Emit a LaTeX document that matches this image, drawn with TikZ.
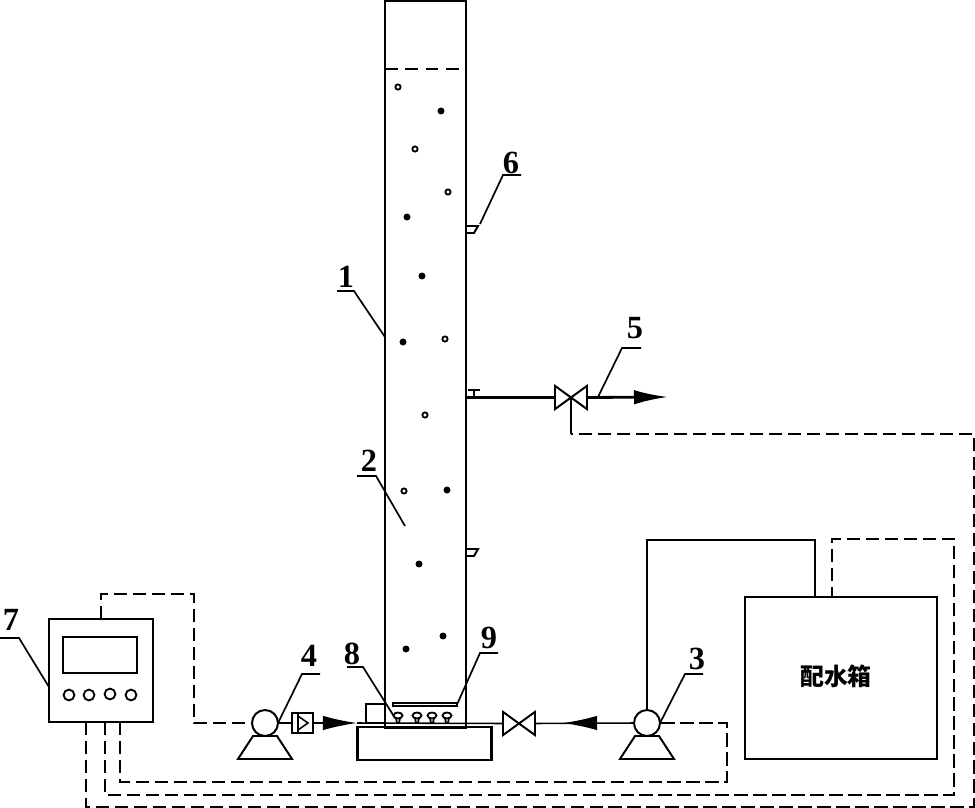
\documentclass[tikz,border=0pt]{standalone}
\usepackage{fontspec}
\setmainfont{Liberation Serif}
\newfontfamily\cjkfont{Noto Sans CJK SC}
\usepackage{tikz}
\usetikzlibrary{arrows.meta}
\tikzset{
  box/.style={draw, rectangle, inner sep=0pt, outer sep=0pt, line width=1.6pt},
  pumphead/.style={draw, circle, inner sep=0pt, outer sep=0pt, minimum size=0.65cm, line width=1.4pt},
  knob/.style={draw, circle, inner sep=0pt, outer sep=0pt, minimum size=0.27cm, line width=1.3pt},
  valvebody/.style={rectangle, inner sep=0pt, outer sep=0pt, minimum width=0.8cm, minimum height=0.58cm},
  pipe/.style={line width=1.1pt},
  mainpipe/.style={line width=2pt},
  flow/.style={-{Latex[length=0.85cm,width=0.36cm]}},
  signal/.style={line width=1.5pt, dash pattern=on 9.5pt off 4pt},
  leader/.style={line width=1.2pt},
  tag/.style={inner sep=0pt, font=\fontsize{23}{23}\selectfont\bfseries}
}
\begin{document}
\begin{tikzpicture}[x=0.025cm, y=-0.025cm]
  \useasboundingbox (0,0) rectangle (975,808);
  % column and base
  \node (column) [box, line width=2pt, minimum width=2.025cm, minimum height=18.15cm] at (425.5,364) {};
  \node (base) [box, minimum width=3.35cm, minimum height=0.825cm] at (424.5,743.5) {};
  \node (sidebox) [box, minimum width=0.475cm, minimum height=0.475cm] at (375.5,713.5) {};
  \node (plate) [box, minimum width=1.6cm, minimum height=0.07cm] at (425,704.5) {};
  \draw[line width=1.4pt, dash pattern=on 9pt off 5.5pt] (column.west |- 0,69) -- (column.east |- 0,69);
  % particles
  \foreach \x/\y in {441/111, 407/217, 422/276, 403/342, 447/490, 419/564, 443/636, 406/649}
    \fill (\x,\y) circle (3.5);
  \foreach \x/\y in {398/87, 415/149, 448/192, 445/339, 425/415, 404/491}
    \draw[line width=1.3pt, fill=white] (\x,\y) circle (2.6);
  % diffusers
  \foreach \x in {398,417,432,447} {
    \draw[line width=1.3pt] (\x,715.5) ellipse (4.5 and 3);
    \draw[line width=1.3pt] (\x-2,718) -- (\x-1,723) (\x+2,718) -- (\x+1,723);
  }
  % sensors
  \foreach \y in {226,549}
    \draw[line width=1.4pt] (column.east |- 0,\y) -- ++(12,0) -- ++(-4,7) -- ++(-8,0);
  \draw[line width=1.4pt] (468,390) -- (480,390) (474,390) -- (474,397);

  % controller
  \node (controller) [box, minimum width=2.6cm, minimum height=2.575cm] at (101,670.5) {};
  \node (screen) [box, minimum width=1.85cm, minimum height=0.9cm] at (100,655) {};
  \node (knoba) [knob] at (69,695) {};
  \node (knobb) [knob] at (89,695) {};
  \node (knobc) [knob] at (110,694) {};
  \node (knobd) [knob] at (131,695) {};

  % pumps, valves, tank
  \node (pumpin) [pumphead] at (265,723) {};
  \node (pumpout) [pumphead] at (647,723) {};
  \foreach \p in {pumpin,pumpout}
    \draw[line width=1.4pt] ([shift={(-12,13)}]\p.center) -- ([shift={(12,13)}]\p.center)
      -- ([shift={(27,36)}]\p.center) -- ([shift={(-27,36)}]\p.center) -- cycle;
  \node (check) [box, minimum width=0.525cm, minimum height=0.5cm] at (302.5,723) {};
  \draw[line width=1.1pt] (298,713) -- (298,733) (298,716) -- (308,723) -- (298,730);
  \node (valvein) [valvebody] at (519,723.5) {};
  \node (valveout) [valvebody] at (571,397.5) {};
  \foreach \v in {valvein,valveout}
    \draw[line width=1.4pt] (\v.north west) -- (\v.south east) -- (\v.north east) -- (\v.south west) -- cycle;
  \node (tank) [box, minimum width=4.8cm, minimum height=4.05cm] at (841,678) {};
  \node (tanktext) [inner sep=0pt, font=\cjkfont\fontsize{17}{17}\selectfont\bfseries] at (836,676) {配水箱};

  % pipes
  \coordinate (tipin) at (357,723);
  \coordinate (tipout) at (563,723);
  \coordinate (tailout) at (596,723);
  \coordinate (tipdrain) at (668,397);
  \coordinate (elbow) at (571,434);
  \draw[pipe] (pumpin.east) -- (check.west);
  \draw[pipe, flow] (check.east) -- (tipin);
  \draw[pipe] (tipin) -- (valvein.west);
  \draw[pipe] (valvein.east) -- (pumpout.west);
  \draw[pipe, flow] (tailout) -- (tipout);
  \draw[line width=1.6pt] (pumpout.north) -- (647,540) -- (815,540) -- (815,0 |- tank.north);
  \draw[mainpipe] (column.east |- valveout) -- (valveout.west);
  \draw[mainpipe, flow] (valveout.east) -- (tipdrain);

  % signal lines
  \draw[signal] (controller.north) -- (101,594) -- (194,594) -- (194,723) -- (pumpin.west);
  \draw[signal] (120,0 |- controller.south) -- (120,782) -- (727,782) -- (727,723) -- (pumpout.east);
  \draw[signal] (105,0 |- controller.south) -- (105,795) -- (954,795) -- (954,539) -- (832,539) -- (832,0 |- tank.north);
  \draw[signal] (86,0 |- controller.south) -- (86,807) -- (974,807) -- (974,434) -- (elbow);
  \draw[line width=1.5pt] (elbow) -- (valveout.center);

  % labels
  \node (taga) [tag] at (346,277) {1};
  \draw[leader] (column.west |- 0,337) -- (354,291) -- (337,291);
  \node (tagb) [tag] at (369,461) {2};
  \draw[leader] (405,526) -- (376,476) -- (357,476);
  \node (tagc) [tag] at (697,659) {3};
  \draw[leader] (pumpout.east) -- (685,674) -- (703,674);
  \node (tagd) [tag] at (309,656) {4};
  \draw[leader] (pumpin.east) -- (302,674) -- (320,674);
  \node (tage) [tag] at (635,328) {5};
  \draw[leader] (598,397) -- (622,348) -- (641,348);
  \node (tagf) [tag] at (511,163) {6};
  \draw[leader] (480,224) -- (503,175) -- (521,175);
  \node (tagg) [tag] at (11,620) {7};
  \draw[leader] (controller.west |- 0,687) -- (19,638) -- (0,638);
  \node (tagh) [tag] at (352,654) {8};
  \draw[leader] (395,718) -- (363,667) -- (347,667);
  \node (tagi) [tag] at (489,638) {9};
  \draw[leader] (plate.east) -- (480,653) -- (498,653);
\end{tikzpicture}
\end{document}
